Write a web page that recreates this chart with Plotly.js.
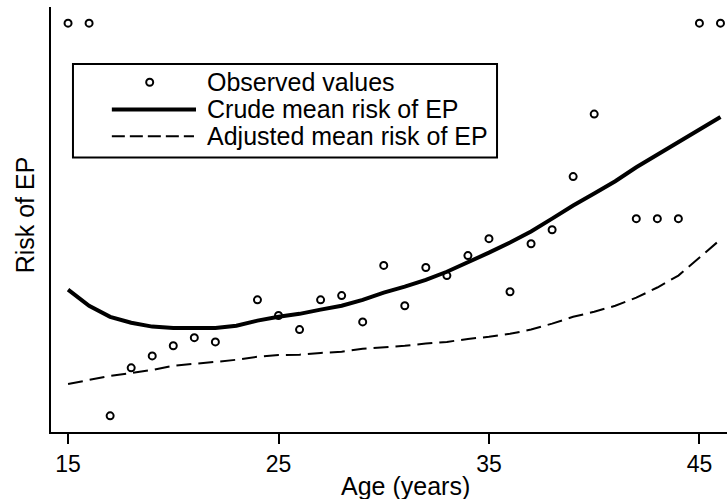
<!DOCTYPE html>
<html>
<head>
<meta charset="utf-8">
<script src="https://cdn.plot.ly/plotly-3.0.1.min.js"></script>
<style>html,body{margin:0;padding:0;background:#fff;overflow:hidden}#chart{width:727px;height:499px}</style>
</head>
<body>
<div id="chart"></div>
<script>
// Observed values (age, risk in arbitrary units)
const obsAge  = [15, 16, 17, 18, 19, 20, 21, 22, 24, 25, 26, 27, 28, 29, 30, 31, 32, 33, 34, 35, 36, 37, 38, 39, 40, 42, 43, 44, 45, 46];
const obsRisk = [9.62, 9.62, 0.38, 1.51, 1.79, 2.03, 2.22, 2.12, 3.11, 2.74, 2.41, 3.11, 3.21, 2.59, 3.92, 2.97, 3.87, 3.68, 4.15, 4.55, 3.30, 4.43, 4.76, 6.01, 7.48, 5.02, 5.02, 5.02, 9.62, 9.62];

// Fitted curves
const fitAge = [15, 16, 17, 18, 19, 20, 21, 22, 23, 24, 25, 26, 27, 28, 29, 30, 31, 32, 33, 34, 35, 36, 37, 38, 39, 40, 41, 42, 43, 44, 45, 46];
const crudeRisk = [3.35, 2.97, 2.71, 2.57, 2.48, 2.45, 2.45, 2.45, 2.50, 2.62, 2.71, 2.78, 2.88, 2.97, 3.11, 3.28, 3.42, 3.58, 3.77, 3.99, 4.22, 4.46, 4.72, 5.02, 5.33, 5.61, 5.90, 6.23, 6.53, 6.82, 7.12, 7.41];
const adjRisk = [1.13, 1.23, 1.32, 1.39, 1.46, 1.56, 1.60, 1.65, 1.70, 1.77, 1.81, 1.82, 1.86, 1.89, 1.96, 1.99, 2.03, 2.08, 2.12, 2.19, 2.24, 2.31, 2.41, 2.55, 2.71, 2.83, 2.97, 3.16, 3.40, 3.68, 4.10, 4.53];

const xTicks = [15, 25, 35, 45];
const legendLabels = ["Observed values", "Crude mean risk of EP", "Adjusted mean risk of EP"];

const FONT = "Liberation Sans, Arial, Helvetica, sans-serif";

const traces = [
  {x: fitAge, y: adjRisk, type: "scatter", mode: "lines",
   line: {color: "#000", width: 2, dash: "15px,7px"}, showlegend: false, hoverinfo: "skip"},
  {x: fitAge, y: crudeRisk, type: "scatter", mode: "lines",
   line: {color: "#000", width: 4}, showlegend: false, hoverinfo: "skip"},
  {x: obsAge, y: obsRisk, type: "scatter", mode: "markers",
   marker: {symbol: "circle-open", size: 7, color: "#000", line: {width: 2, color: "#000"}},
   showlegend: false, cliponaxis: false}
];

// legend geometry in paper coords
const rowY = [0.823, 0.759, 0.696];
const shapes = [
  {type: "rect", xref: "paper", yref: "paper", x0: 0.0325, x1: 0.6598, y0: 0.646, y1: 0.8656,
   line: {color: "#000", width: 2}, fillcolor: "rgba(0,0,0,0)"},
  {type: "circle", xref: "paper", yref: "paper", xsizemode: "pixel", ysizemode: "pixel",
   xanchor: 0.146, yanchor: rowY[0], x0: -3.5, x1: 3.5, y0: -3.5, y1: 3.5,
   line: {color: "#000", width: 2}},
  {type: "line", xref: "paper", yref: "paper", x0: 0.090, x1: 0.2145, y0: rowY[1], y1: rowY[1],
   line: {color: "#000", width: 4}},
  {type: "line", xref: "paper", yref: "paper", x0: 0.090, x1: 0.2115, y0: rowY[2], y1: rowY[2],
   line: {color: "#000", width: 2, dash: "13px,5px"}}
];

const annotations = legendLabels.map((t, i) => ({
  text: t, xref: "paper", yref: "paper", x: 0.228, y: rowY[i],
  xanchor: "left", yanchor: "middle", showarrow: false,
  font: {family: FONT, size: 25, color: "#000"}
}));
annotations.push({text: "Age (years)", xref: "paper", yref: "paper", x: 0.525, y: -0.127,
  xanchor: "center", yanchor: "middle", showarrow: false, font: {family: FONT, size: 25, color: "#000"}});
annotations.push({text: "Risk of EP", xref: "paper", yref: "paper", x: -0.0385, y: 0.512,
  xanchor: "center", yanchor: "middle", textangle: -90, showarrow: false, font: {family: FONT, size: 25, color: "#000"}});

const layout = {
  width: 727, height: 499,
  margin: {l: 51, r: 0, t: 7, b: 67},
  paper_bgcolor: "#fff", plot_bgcolor: "#fff",
  showlegend: false,
  font: {family: FONT, color: "#000"},
  xaxis: {range: [14.19, 46.31], tickvals: xTicks, ticktext: xTicks.map(String),
    ticks: "outside", ticklen: 10, tickwidth: 2, tickcolor: "#000",
    showline: true, linecolor: "#000", linewidth: 2, showgrid: false, zeroline: false,
    tickfont: {family: FONT, size: 23, color: "#000"}},
  yaxis: {range: [0, 10], showticklabels: false, ticks: "", showline: true,
    linecolor: "#000", linewidth: 2, showgrid: false, zeroline: false},
  shapes: shapes,
  annotations: annotations
};

Plotly.newPlot("chart", traces, layout, {displayModeBar: false, staticPlot: true});
</script>
</body>
</html>
